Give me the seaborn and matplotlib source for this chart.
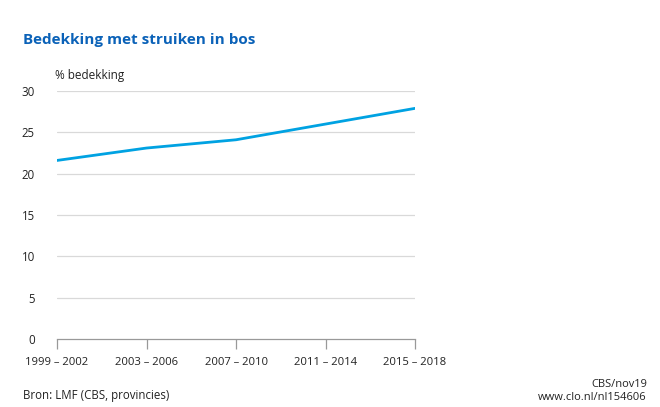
import matplotlib
matplotlib.use("Agg")
import matplotlib.pyplot as plt
import seaborn as sns
import pandas as pd

periods = ["1999 – 2002", "2003 – 2006", "2007 – 2010", "2011 – 2014", "2015 – 2018"]
bedekking = [21.6, 23.1, 24.1, 26.0, 27.9]
yticks = [0, 5, 10, 15, 20, 25, 30]

title = "Bedekking met struiken in bos"
ylabel = "% bedekking"
source = "Bron: LMF (CBS, provincies)"
credit = "CBS/nov19\nwww.clo.nl/nl154606"

sns.set_theme(style="white")
plt.rcParams["font.family"] = ["Open Sans", "DejaVu Sans"]

df = pd.DataFrame({"periode": periods, "waarde": bedekking})
df["x"] = range(len(periods))

fig = plt.figure(figsize=(6.6, 4.07), dpi=100)
ax = fig.add_axes([57/660, 1 - 339/407, (415-57)/660, (339-91)/407])

sns.lineplot(data=df, x="x", y="waarde", ax=ax, color="#00a2e2", linewidth=2.0)

ax.set_xlim(0, len(periods) - 1)
ax.set_ylim(0, 30)
ax.set_yticks(yticks)
ax.set_yticklabels([str(v) for v in yticks], fontsize=8.3, color="#222222")
ax.set_xticks(df["x"])
ax.set_xticklabels(periods, fontsize=8.1, color="#222222")
ax.set_xlabel("")
ax.set_ylabel("")

for v in yticks[1:]:
    ax.axhline(v, color="#d9d9d9", linewidth=0.9, zorder=0)

for s in ["top", "right", "left"]:
    ax.spines[s].set_visible(False)
ax.spines["bottom"].set_color("#999999")
ax.spines["bottom"].set_linewidth(0.9)
ax.tick_params(axis="x", which="both", bottom=True, length=7, width=0.9, color="#999999", pad=6, direction="out")
ax.tick_params(axis="y", left=False, pad=10)

fig.text(23/660, 1 - 40/407, title, fontsize=11, fontweight="bold", color="#0b62b8", va="center", ha="left")
fig.text(55/660, 1 - 75/407, ylabel, fontsize=8.5, color="#222222", va="center", ha="left")
fig.text(23/660, 1 - 396/407, source, fontsize=8.3, color="#222222", va="center", ha="left")
fig.text(647/660, 1 - 391/407, credit, fontsize=8, color="#222222", va="center", ha="right", linespacing=1.25)

fig.savefig("out.png", dpi=100)
